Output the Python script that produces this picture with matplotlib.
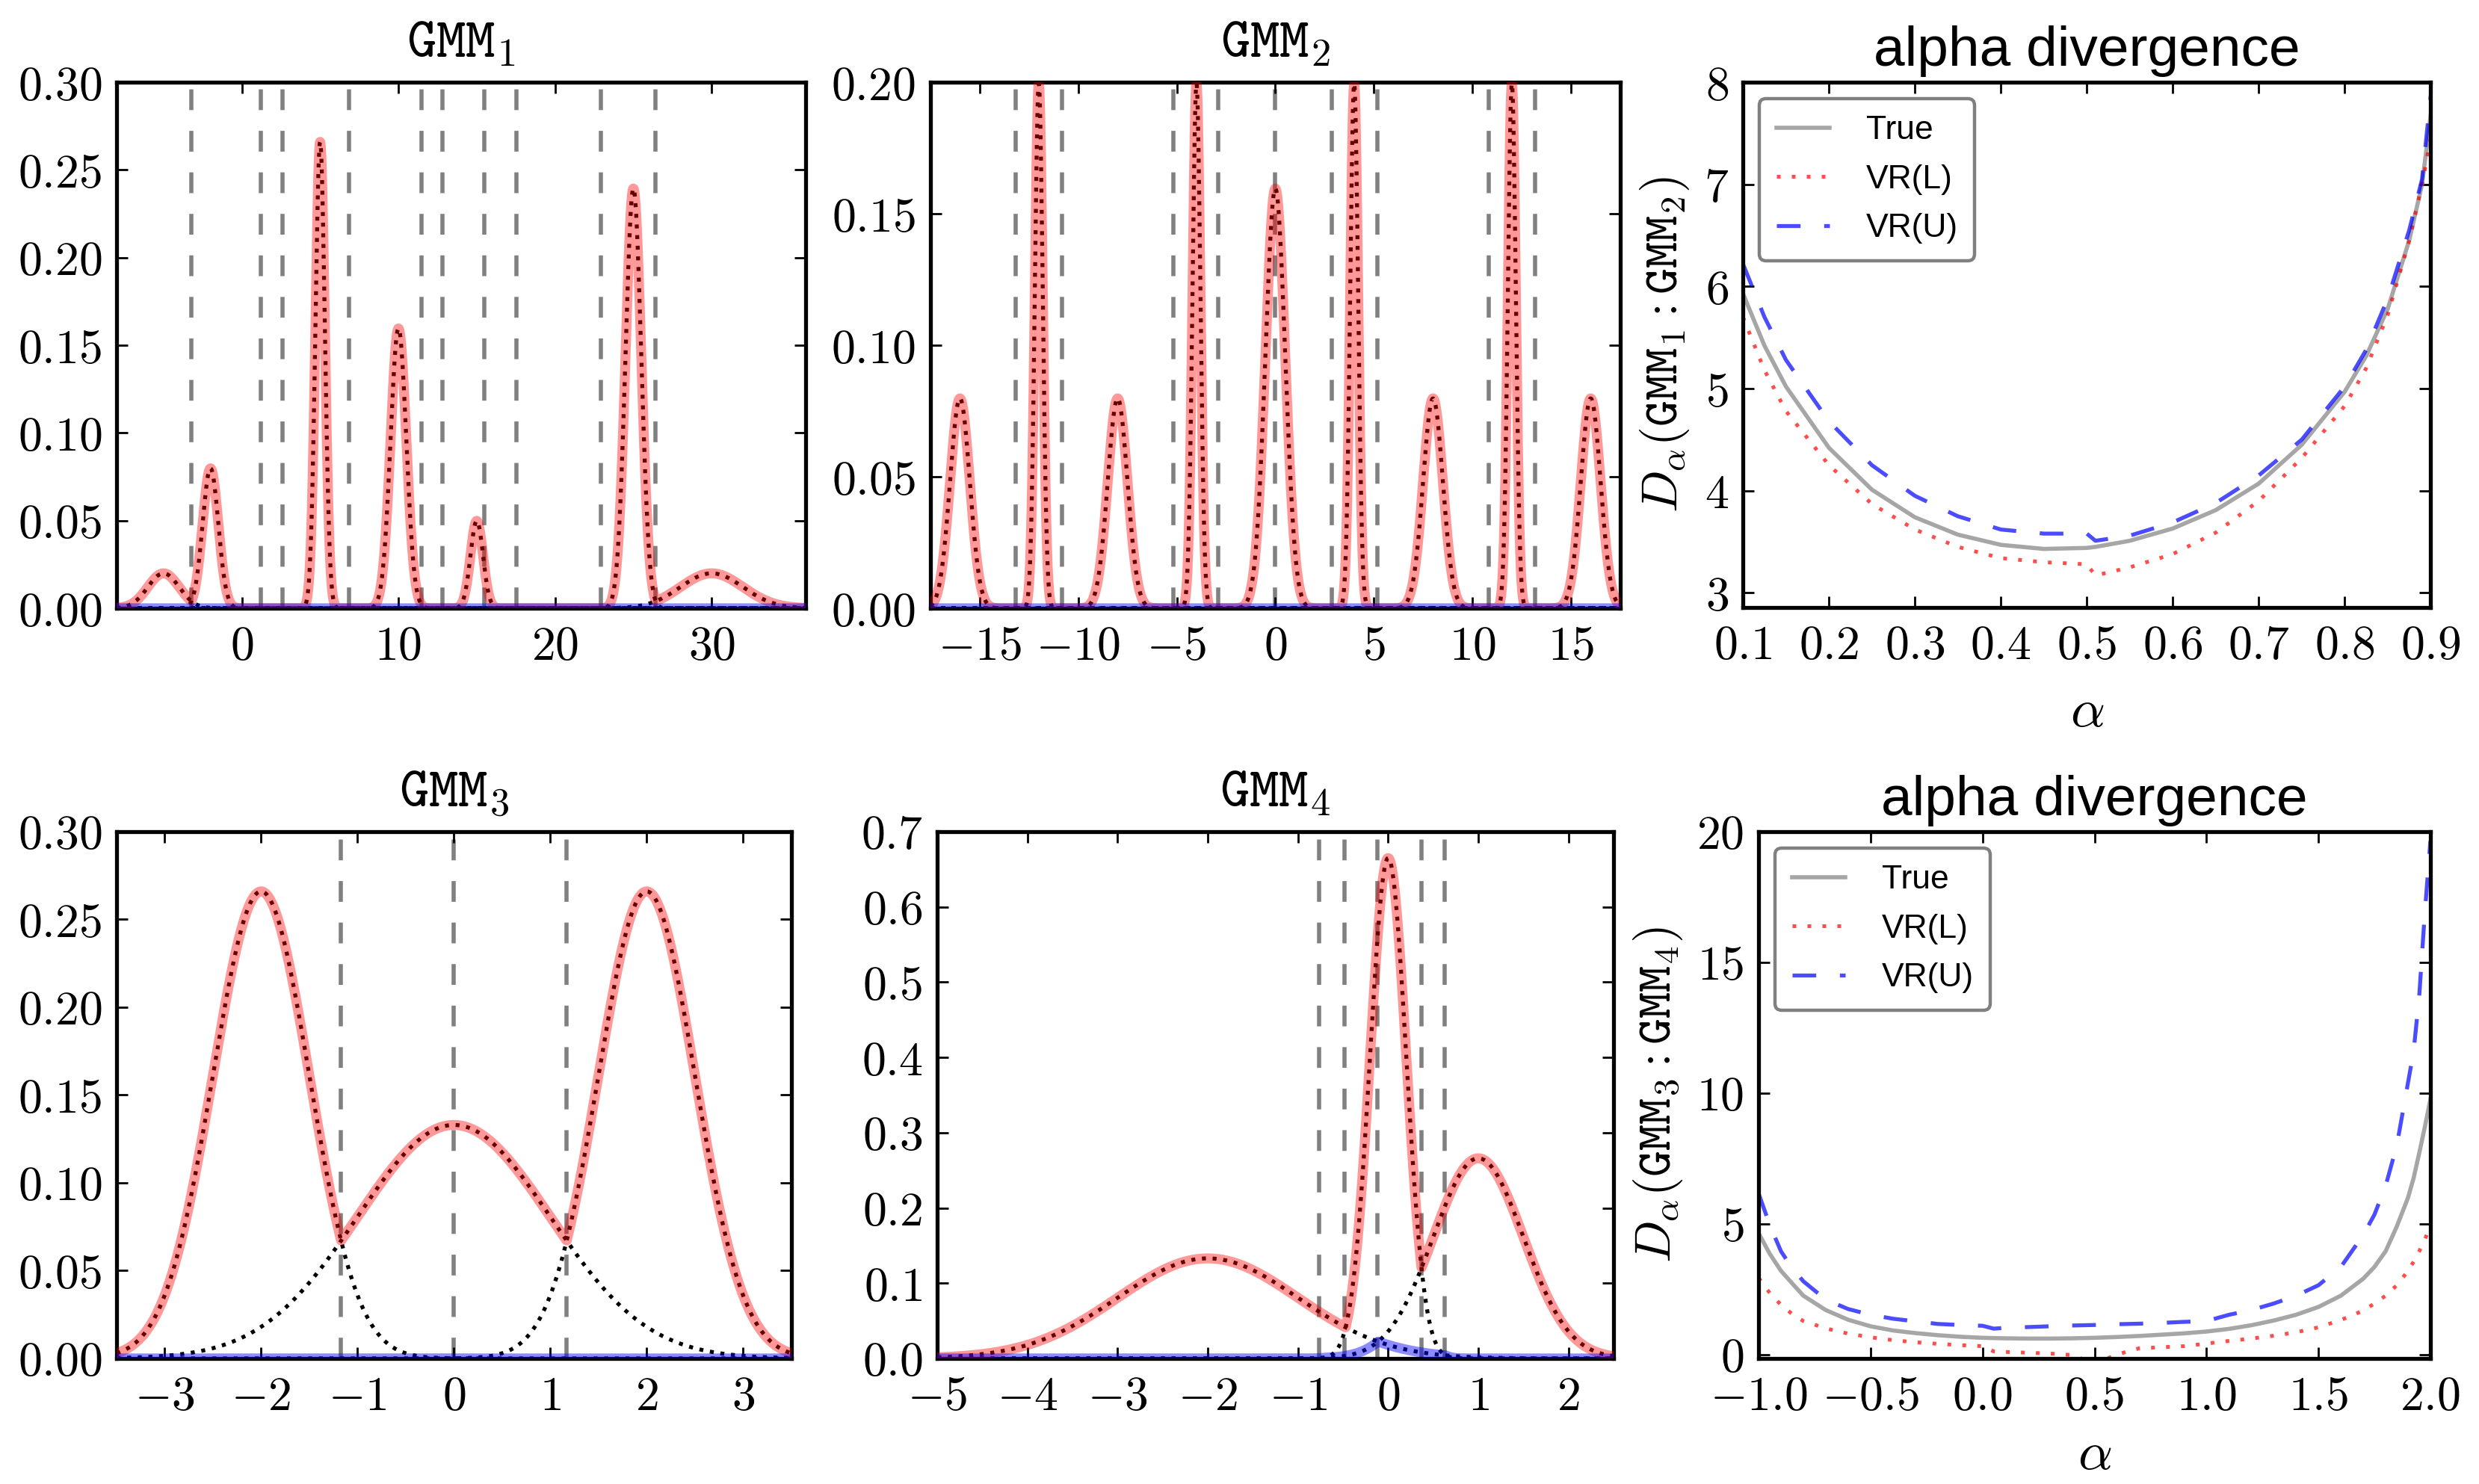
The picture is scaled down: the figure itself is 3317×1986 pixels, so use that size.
import numpy as np
import matplotlib
matplotlib.use("Agg")
import matplotlib.pyplot as plt
from matplotlib.ticker import FixedLocator, FuncFormatter

plt.rcParams["mathtext.fontset"] = "cm"
plt.rcParams["font.family"] = ["Liberation Sans", "DejaVu Sans"]

# mixture components (weight, mean, std)
gmm1_w = [0.05, 0.1, 0.2, 0.2, 0.05, 0.3, 0.1]
gmm1_mu = [-5, -2, 5, 10, 15, 25, 30]
gmm1_sd = [1.0, 0.5, 0.3, 0.5, 0.4, 0.5, 2.0]
gmm1_cuts = [-3.22, 1.21, 2.62, 6.85, 11.45, 12.83, 15.49, 17.53, 22.91, 26.40]

gmm2_w = [0.1, 0.1, 0.1, 0.1, 0.2, 0.1, 0.1, 0.1, 0.1]
gmm2_mu = [-16, -12, -8, -4, 0, 4, 8, 12, 16]
gmm2_sd = [0.5, 0.2, 0.5, 0.2, 0.5, 0.2, 0.5, 0.2, 0.5]
gmm2_cuts = [-13.17, -10.83, -5.17, -2.88, 0.0, 2.88, 5.17, 10.83, 13.17]

gmm3_w = [1/3, 1/3, 1/3]
gmm3_mu = [-2, 0, 2]
gmm3_sd = [0.5, 1.0, 0.5]
gmm3_cuts = [-1.17, 0.0, 1.17]

gmm4_w = [1/3, 1/3, 1/3]
gmm4_mu = [-2, 0, 1]
gmm4_sd = [1.0, 0.2, 0.5]
gmm4_cuts = [-0.77, -0.48, -0.12, 0.37, 0.63]

# alpha divergence, GMM1 : GMM2
alpha_top = [0.10, 0.125, 0.15, 0.20, 0.25, 0.30, 0.35, 0.40, 0.45, 0.50, 0.51,
             0.55, 0.60, 0.65, 0.70, 0.75, 0.80, 0.825, 0.85, 0.875, 0.89, 0.90]
true_top = [5.93, 5.42, 5.02, 4.42, 4.01, 3.74, 3.57, 3.47, 3.43, 3.44, 3.45,
            3.51, 3.63, 3.81, 4.07, 4.45, 4.97, 5.32, 5.78, 6.45, 7.00, 7.68]
vrl_top = [5.70, 5.18, 4.78, 4.25, 3.87, 3.62, 3.45, 3.34, 3.30, 3.28, 3.17,
           3.25, 3.38, 3.59, 3.90, 4.32, 4.83, 5.20, 5.72, 6.45, 7.00, 7.45]
vru_top = [6.22, 5.70, 5.28, 4.68, 4.25, 3.95, 3.75, 3.62, 3.58, 3.58, 3.51,
           3.56, 3.69, 3.88, 4.15, 4.50, 5.02, 5.38, 5.88, 6.55, 7.05, 7.87]

# alpha divergence, GMM3 : GMM4
alpha_bot = [-1.0, -0.95, -0.9, -0.85, -0.8, -0.7, -0.6, -0.5, -0.4, -0.3, -0.2, -0.1,
             0.0, 0.05, 0.1, 0.2, 0.3, 0.4, 0.5, 0.6, 0.7, 0.8, 0.9, 1.0, 1.1, 1.2,
             1.3, 1.4, 1.5, 1.6, 1.7, 1.75, 1.8, 1.85, 1.9, 1.925, 1.95, 1.975, 2.0]
true_bot = [4.64, 3.85, 3.20, 2.72, 2.25, 1.70, 1.33, 1.08, 0.92, 0.82, 0.74, 0.68,
            0.64, 0.63, 0.62, 0.61, 0.61, 0.62, 0.64, 0.67, 0.71, 0.76, 0.81, 0.88, 0.98, 1.12,
            1.30, 1.52, 1.82, 2.25, 2.90, 3.35, 3.95, 4.90, 6.00, 6.75, 7.70, 8.70, 9.76]
vrl_bot = [2.93, 2.35, 1.90, 1.55, 1.28, 1.00, 0.80, 0.66, 0.55, 0.47, 0.41, 0.36,
           0.32, 0.12, 0.10, 0.07, 0.04, -0.02, -0.35, 0.00, 0.24, 0.28, 0.32, 0.42, 0.52, 0.61,
           0.72, 0.85, 1.04, 1.32, 1.68, 1.95, 2.25, 2.65, 3.20, 3.55, 3.95, 4.40, 4.90]
vru_bot = [6.16, 4.95, 3.95, 3.30, 2.80, 2.10, 1.74, 1.52, 1.37, 1.27, 1.17, 1.13,
           1.10, 0.99, 1.02, 1.05, 1.08, 1.11, 1.13, 1.16, 1.18, 1.21, 1.25, 1.28, 1.52, 1.70,
           1.95, 2.25, 2.65, 3.35, 4.57, 5.35, 6.45, 8.00, 10.40, 11.60, 13.70, 16.90, 19.64]


def math_fmt(fmt):
    return FuncFormatter(lambda v, pos: "$" + format(v, fmt) + "$")


def style_axes(ax, xticks, yticks, xfmt, yfmt):
    ax.xaxis.set_major_locator(FixedLocator(xticks))
    ax.yaxis.set_major_locator(FixedLocator(yticks))
    ax.xaxis.set_major_formatter(math_fmt(xfmt))
    ax.yaxis.set_major_formatter(math_fmt(yfmt))
    ax.tick_params(direction="in", top=True, right=True, length=5.4, width=1.0,
                   labelsize=23)
    ax.tick_params(axis="x", pad=8)
    ax.tick_params(axis="y", pad=7)
    for s in ax.spines.values():
        s.set_linewidth(1.9)


def plot_gmm(ax, w, mu, sd, cuts, xlim, title):
    x = np.linspace(xlim[0], xlim[1], 3000)
    comps = np.array([wi / (si * np.sqrt(2 * np.pi)) * np.exp(-(x - mi) ** 2 / (2 * si ** 2))
                      for wi, mi, si in zip(w, mu, sd)])
    for c in cuts:
        ax.axvline(c, color="gray", lw=2.0, linestyle=(0, (5, 5)), zorder=1)
    for comp in comps:
        ax.plot(x, comp, color="black", lw=1.9, linestyle=(0, (1, 1.7)), zorder=2)
    ax.plot(x, comps.max(axis=0), color="red", alpha=0.4, lw=4.8, zorder=3)
    ax.plot(x, comps.min(axis=0), color="blue", alpha=0.45, lw=4.8, zorder=3)
    ax.set_xlim(*xlim)
    ax.set_title(title, fontsize=27, pad=12)


def plot_div(ax, a, t, lo, up, ylabel, xpad):
    ax.plot(a, t, color="gray", alpha=0.7, lw=2.0, label="True")
    ax.plot(a, lo, color="red", alpha=0.7, lw=1.8, linestyle=(0, (1, 3)), label="VR(L)")
    ax.plot(a, up, color="blue", alpha=0.7, lw=1.9, linestyle=(0, (6, 6)), label="VR(U)")
    ax.set_xlim(a[0], a[-1])
    ax.set_title("alpha divergence", fontsize=27, pad=8)
    ax.set_xlabel(r"$\alpha$", fontsize=26, labelpad=xpad)
    ax.set_ylabel(ylabel, fontsize=24, labelpad=6)
    leg = ax.legend(loc="upper left", fontsize=16, fancybox=True, framealpha=1,
                    edgecolor="gray", borderaxespad=0.5, borderpad=0.5,
                    handlelength=1.6, handletextpad=1.1, labelspacing=0.55)
    leg.get_frame().set_linewidth(1.6)


fig = plt.figure(figsize=(16.585, 9.93), dpi=200)
ax1 = fig.add_axes([0.0470, 0.5901, 0.2780, 0.3545])
ax2 = fig.add_axes([0.3753, 0.5901, 0.2783, 0.3545])
ax3 = fig.add_axes([0.7031, 0.5906, 0.2774, 0.3540])
ax4 = fig.add_axes([0.0470, 0.0846, 0.2722, 0.3550])
ax5 = fig.add_axes([0.3781, 0.0846, 0.2728, 0.3550])
ax6 = fig.add_axes([0.7094, 0.0846, 0.2710, 0.3550])

plot_gmm(ax1, gmm1_w, gmm1_mu, gmm1_sd, gmm1_cuts, (-8, 36), r"$\mathtt{GMM}_1$")
ax1.set_ylim(0, 0.30)
style_axes(ax1, [0, 10, 20, 30], np.arange(0, 0.31, 0.05), ".0f", ".2f")

plot_gmm(ax2, gmm2_w, gmm2_mu, gmm2_sd, gmm2_cuts, (-17.5, 17.5), r"$\mathtt{GMM}_2$")
ax2.set_ylim(0, 0.20)
style_axes(ax2, [-15, -10, -5, 0, 5, 10, 15], np.arange(0, 0.21, 0.05), ".0f", ".2f")

plot_gmm(ax4, gmm3_w, gmm3_mu, gmm3_sd, gmm3_cuts, (-3.5, 3.5), r"$\mathtt{GMM}_3$")
ax4.set_ylim(0, 0.30)
style_axes(ax4, [-3, -2, -1, 0, 1, 2, 3], np.arange(0, 0.31, 0.05), ".0f", ".2f")

plot_gmm(ax5, gmm4_w, gmm4_mu, gmm4_sd, gmm4_cuts, (-5, 2.5), r"$\mathtt{GMM}_4$")
ax5.set_ylim(0, 0.7)
style_axes(ax5, [-5, -4, -3, -2, -1, 0, 1, 2], np.arange(0, 0.71, 0.1), ".0f", ".1f")

plot_div(ax3, alpha_top, true_top, vrl_top, vru_top,
         r"$D_\alpha(\mathtt{GMM}_1:\mathtt{GMM}_2)$", 9)
ax3.set_ylim(2.856, 8)
style_axes(ax3, np.arange(0.1, 0.91, 0.1), [3, 4, 5, 6, 7, 8], ".1f", ".0f")

plot_div(ax6, alpha_bot, true_bot, vrl_bot, vru_bot,
         r"$D_\alpha(\mathtt{GMM}_3:\mathtt{GMM}_4)$", 5)
ax6.set_ylim(-0.15, 20)
style_axes(ax6, [-1.0, -0.5, 0.0, 0.5, 1.0, 1.5, 2.0], [0, 5, 10, 15, 20], ".1f", ".0f")

fig.savefig("out.png", dpi=200)
